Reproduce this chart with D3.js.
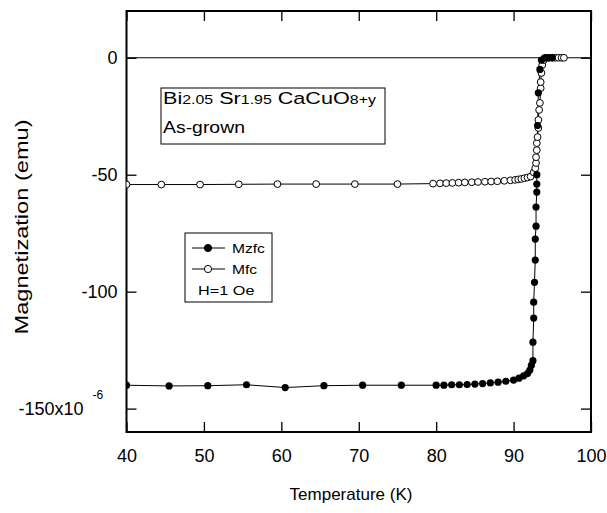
<!DOCTYPE html>
<html>
<head>
<meta charset="utf-8">
<script src="https://cdn.jsdelivr.net/npm/d3@7"></script>
<style>
  html, body { margin: 0; padding: 0; background: #fff; }
  svg { display: block; font-family: "Liberation Sans", Arial, Helvetica, sans-serif; }
</style>
</head>
<body>
<svg id="chart" width="607" height="513"></svg>
<script>
// Zero-field-cooled magnetization (emu, x1e-6) vs temperature (K)
const zfcTemp = [40, 45.5, 50.5, 55.5, 60.5, 65.5, 70.5, 75.5,
  80, 81, 82, 83, 84, 85, 86, 87, 88, 89, 90, 90.7, 91.3, 91.8, 92.1, 92.3,
  92.5, 92.5, 92.6, 92.6, 92.7, 92.8, 92.8, 92.9, 92.9, 93.0, 93.0, 93.0,
  93.1, 93.2, 93.4, 93.6, 94.0, 94.5, 95.0];
const zfcMag = [-140, -140.3, -140.2, -139.8, -141, -140.2, -140, -140,
  -140, -140, -139.8, -139.8, -139.7, -139.5, -139.3, -139, -138.7, -138.3, -137.8, -137, -136, -135, -133.5, -131.5,
  -129.5, -121.6, -111.3, -104.5, -96, -86.5, -77.5, -72, -63.8, -57.4, -54, -50,
  -29, -15, -5, -1, 0, 0, 0];

// Field-cooled magnetization
const fcTemp = [40, 44.5, 49.5, 54.5, 59.5, 64.5, 69.5, 75,
  79.6, 80.5, 81.3, 82.1, 82.9, 83.7, 84.6, 85.4, 86.3, 87.1, 87.9, 88.8, 89.6,
  90.2, 90.6, 91.0, 91.4, 91.8, 92.2,
  92.6, 92.8, 92.9, 92.9, 93.0, 93.0, 93.1, 93.2, 93.2, 93.3, 93.4, 93.5, 93.5, 93.6, 93.7, 93.9,
  94.2, 94.6, 95.0, 95.4, 95.8, 96.2, 96.5];
const fcMag = [-54.2, -54.2, -54.2, -54.1, -54, -54, -54, -54,
  -53.8, -53.7, -53.6, -53.5, -53.4, -53.3, -53.2, -53.1, -53, -52.9, -52.8, -52.6, -52.4,
  -52.2, -52, -51.8, -51.5, -51.2, -50.8,
  -49, -47.2, -45, -42.5, -39.5, -36.5, -33.9, -30, -26.6, -22.3, -19.3, -13, -10.4, -6.5, -3.1, -1,
  0, 0, 0, 0, 0, 0, 0];

const xTicks = [40, 50, 60, 70, 80, 90, 100];
const yTicks = [0, -50, -100, -150];
const yTickLabels = ["0", "-50", "-100", "-150x10"];

const svg = d3.select("#chart");
const plotL = 126.5, plotR = 591, plotT = 11, plotB = 432;

const x = d3.scaleLinear().domain([40, 100]).range([plotL, plotR]);
const y = d3.scaleLinear().domain([-160, 20]).range([plotB, plotT]);

// clip for marks
svg.append("defs").append("clipPath").attr("id", "plotClip")
  .append("rect").attr("x", plotL).attr("y", plotT).attr("width", plotR - plotL).attr("height", plotB - plotT);

// zero reference line
svg.append("line")
  .attr("x1", plotL).attr("x2", plotR).attr("y1", y(0)).attr("y2", y(0))
  .attr("stroke", "#000").attr("stroke-width", 1);

// axes: ticks pointing inward on all four sides
const tickLen = 10;
const bottomAxis = d3.axisBottom(x).tickValues(xTicks).tickSize(-tickLen).tickPadding(17).tickFormat(d3.format("d"));
const topAxis = d3.axisTop(x).tickValues(xTicks).tickSize(-tickLen).tickFormat("");
const leftAxis = d3.axisLeft(y).tickValues(yTicks).tickSize(-tickLen).tickPadding(9)
  .tickFormat(d => yTickLabels[yTicks.indexOf(d)]);
const rightAxis = d3.axisRight(y).tickValues(yTicks).tickSize(-tickLen).tickFormat("");

function styleAxis(g) {
  g.select(".domain").remove();
  g.selectAll(".tick line").attr("stroke", "#000").attr("stroke-width", 1.3);
  g.selectAll(".tick text").attr("fill", "#000").attr("font-size", 18)
    .attr("font-family", "Liberation Sans, Arial, sans-serif");
}
svg.append("g").attr("transform", `translate(0,${plotB})`).call(bottomAxis).call(styleAxis);
svg.append("g").attr("transform", `translate(0,${plotT})`).call(topAxis).call(styleAxis);
const gl = svg.append("g").attr("transform", `translate(${plotL},0)`).call(leftAxis).call(styleAxis);
svg.append("g").attr("transform", `translate(${plotR},0)`).call(rightAxis).call(styleAxis);

// exponent on the lowest y label
gl.selectAll(".tick").filter(d => d === -150).select("text").attr("dx", -34);
gl.selectAll(".tick").filter(d => d === -150).append("text")
  .attr("x", -34).attr("y", -10).attr("fill", "#000").attr("font-size", 12)
  .attr("text-anchor", "start").text("-6");

// frame
svg.append("rect").attr("x", plotL).attr("y", plotT).attr("width", plotR - plotL).attr("height", plotB - plotT)
  .attr("fill", "none").attr("stroke", "#000").attr("stroke-width", 2);

// series
const plot = svg.append("g").attr("clip-path", "url(#plotClip)");
const line = d3.line().x(d => x(d[0])).y(d => y(d[1]));
const zfc = zfcTemp.map((t, i) => [t, zfcMag[i]]);
const fc = fcTemp.map((t, i) => [t, fcMag[i]]);

plot.append("path").datum(fc).attr("d", line).attr("fill", "none").attr("stroke", "#000").attr("stroke-width", 1);
plot.append("path").datum(zfc).attr("d", line).attr("fill", "none").attr("stroke", "#000").attr("stroke-width", 1);

plot.selectAll("circle.fc").data(fc).join("circle").attr("class", "fc")
  .attr("cx", d => x(d[0])).attr("cy", d => y(d[1])).attr("r", 3.4)
  .attr("fill", "#fff").attr("stroke", "#000").attr("stroke-width", 1);
plot.selectAll("circle.zfc").data(zfc).join("circle").attr("class", "zfc")
  .attr("cx", d => x(d[0])).attr("cy", d => y(d[1])).attr("r", 3.6)
  .attr("fill", "#000");

// stretch a text element horizontally so it spans a given width
function fitWidth(sel, x0, y0, width) {
  const w = sel.node().getBBox().width;
  sel.attr("transform", `translate(${x0},${y0}) scale(${width / w},1)`);
}

// composition box (wide lettering)
const box = svg.append("g");
box.append("rect").attr("x", 161).attr("y", 88).attr("width", 224).attr("height", 56)
  .attr("fill", "#fff").attr("stroke", "#000").attr("stroke-width", 1);
const formula = box.append("text").attr("font-size", 17).attr("fill", "#000");
[["Bi", 17], ["2.05", 12.5], [" Sr", 17], ["1.95", 12.5], [" CaCuO", 17], ["8+y", 12.5]].forEach(([t, s]) => {
  formula.append("tspan").attr("font-size", s).text(t);
});
fitWidth(formula, 163, 104, 214);
const grown = box.append("text").attr("font-size", 17).attr("fill", "#000").text("As-grown");
fitWidth(grown, 163, 133, 82);

// legend
const lg = svg.append("g");
lg.append("rect").attr("x", 185).attr("y", 233).attr("width", 87).attr("height", 69)
  .attr("fill", "#fff").attr("stroke", "#000").attr("stroke-width", 1);
const legendItems = [
  { label: "Mzfc", filled: true, yy: 248 },
  { label: "Mfc", filled: false, yy: 269 }
];
legendItems.forEach(it => {
  lg.append("line").attr("x1", 192).attr("x2", 225).attr("y1", it.yy).attr("y2", it.yy)
    .attr("stroke", "#000").attr("stroke-width", 1);
  lg.append("circle").attr("cx", 208).attr("cy", it.yy).attr("r", 3.6)
    .attr("fill", it.filled ? "#000" : "#fff").attr("stroke", "#000").attr("stroke-width", 1);
  lg.append("text").attr("transform", `translate(232,${it.yy + 5}) scale(1.2,1)`)
    .attr("font-size", 13).attr("fill", "#000").text(it.label);
});
lg.append("text").attr("transform", "translate(198,295) scale(1.25,1)")
  .attr("font-size", 13).attr("fill", "#000").text("H=1 Oe");

// axis titles
svg.append("text").attr("x", 351).attr("y", 500).attr("text-anchor", "middle")
  .attr("font-size", 17).attr("fill", "#000").text("Temperature (K)");
svg.append("text").attr("transform", "translate(28,227) rotate(-90)").attr("text-anchor", "middle")
  .attr("font-size", 18).attr("textLength", 215).attr("lengthAdjust", "spacingAndGlyphs")
  .attr("fill", "#000").text("Magnetization (emu)");
</script>
</body>
</html>
